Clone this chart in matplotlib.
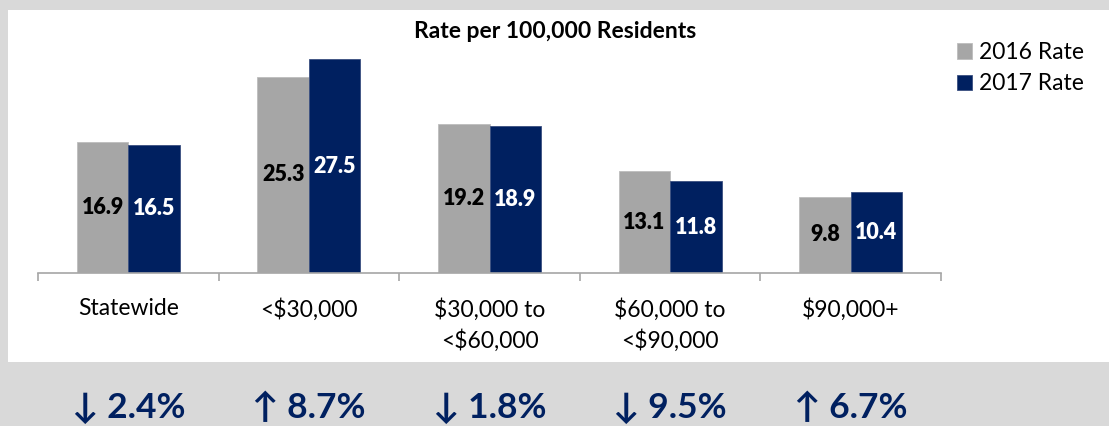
import matplotlib
matplotlib.use('Agg')
import matplotlib.pyplot as plt
import matplotlib.transforms as mtransforms
from matplotlib.patches import Rectangle
import numpy as np

# --- data ---
categories = ['Statewide', '<$30,000', '$30,000 to\n<$60,000', '$60,000 to\n<$90,000', '$90,000+']
rate_2016 = [16.9, 25.3, 19.2, 13.1, 9.8]
rate_2017 = [16.5, 27.5, 18.9, 11.8, 10.4]
changes = ['\u2193 2.4%', '\u2191 8.7%', '\u2193 1.8%', '\u2193 9.5%', '\u2191 6.7%']

GRAY = '#A6A6A6'
NAVY = '#002060'
BG = '#D9D9D9'

plt.rcParams['font.family'] = ['Lato', 'DejaVu Sans']

W, H = 1109, 426
fig = plt.figure(figsize=(W / 100, H / 100), dpi=100)
fig.patch.set_facecolor(BG)

# white chart panel (behind the axes)
fig.patches.append(Rectangle((8 / W, 1 - 362 / H), 1 - 8 / W, (362 - 10) / H,
                             transform=fig.transFigure, facecolor='white',
                             edgecolor='none', zorder=-10))

ax = fig.add_axes([38 / W, 1 - 273 / H, 903 / W, 233 / H])
ax.set_facecolor('none')
ax.set_zorder(1)

x = np.arange(len(categories))
bw = 0.285
b1 = ax.bar(x - bw / 2, rate_2016, bw, color=GRAY, edgecolor='#BDBDBD', linewidth=0.6, label='2016 Rate')
b2 = ax.bar(x + bw / 2, rate_2017, bw, color=NAVY, edgecolor='#3A4F80', linewidth=0.6, label='2017 Rate')

# value labels centred in each bar
for bars, vals, col in [(b1, rate_2016, 'black'), (b2, rate_2017, 'white')]:
    for r, v in zip(bars, vals):
        ax.text(r.get_x() + r.get_width() / 2, v / 2, f'{v:.1f}', ha='center', va='center',
                fontsize=15.5, fontweight='heavy', color=col)

ax.set_xlim(-0.5, len(categories) - 0.5)
ax.set_ylim(0, 30)
for s in ['top', 'left', 'right']:
    ax.spines[s].set_visible(False)
ax.spines['bottom'].set_color('#A6A6A6')
ax.spines['bottom'].set_linewidth(1.2)
ax.set_yticks([])
ax.set_xticks(np.arange(-0.5, len(categories)), labels=[''] * (len(categories) + 1))
ax.tick_params(axis='x', which='major', length=6, width=1.2, color='#A6A6A6', direction='out')
ax.set_xticks(x, labels=categories, minor=True)
ax.tick_params(axis='x', which='minor', length=0, pad=18, labelsize=16.5, labelcolor='black')
for t in ax.get_xticklabels(minor=True):
    t.set_linespacing(1.45)

fig.text(555 / W, 1 - 31 / H, 'Rate per 100,000 Residents', ha='center', va='center',
         fontsize=16.5, fontweight='bold')

fig.legend(handles=[b1, b2], loc='upper left', bbox_to_anchor=(957 / W, 1 - 42 / H),
           frameon=False, fontsize=16.5, handlelength=0.65, handleheight=0.65,
           handletextpad=0.3, labelspacing=0.45, borderpad=0, borderaxespad=0)

# percent change row under each category
trans = mtransforms.blended_transform_factory(ax.transData, fig.transFigure)
for xi, txt in zip(x, changes):
    ax.text(xi, 1 - 408 / H, txt, transform=trans, ha='center', va='center',
            fontsize=25.5, fontweight='bold', color=NAVY, clip_on=False)

fig.savefig('out.png', dpi=100, facecolor=fig.get_facecolor())
